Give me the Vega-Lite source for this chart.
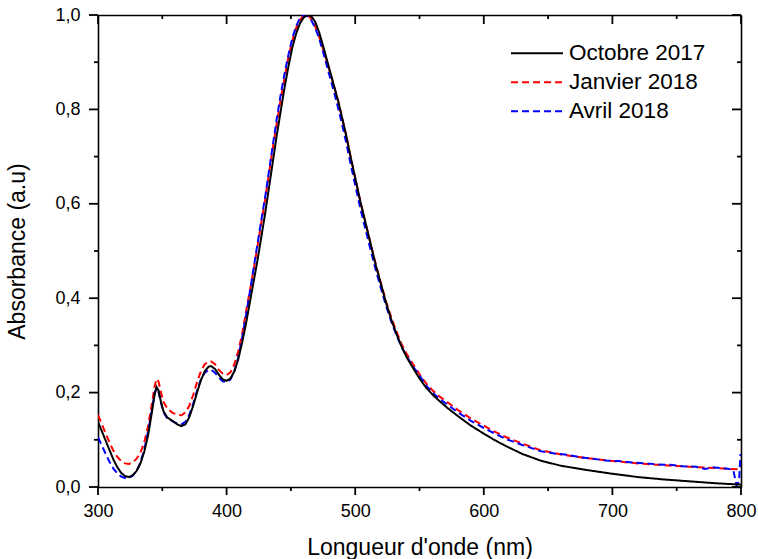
{
  "$schema": "https://vega.github.io/schema/vega-lite/v6.json",
  "width": 643,
  "height": 472,
  "autosize": {"type": "none"},
  "padding": {"left": 98, "top": 15, "right": 17, "bottom": 72},
  "config": {
    "view": {"stroke": null},
    "axis": {
      "grid": false,
      "ticks": false,
      "domainColor": "#000000",
      "domainWidth": 1.6,
      "labelFont": "Liberation Sans",
      "labelFontSize": 18,
      "labelColor": "#000000",
      "labelFlush": false,
      "labelOverlap": false,
      "titleFont": "Liberation Sans",
      "titleFontSize": 23,
      "titleFontWeight": "normal",
      "titleColor": "#000000"
    }
  },
  "datasets": {
    "xmaj": [{"t": 300}, {"t": 400}, {"t": 500}, {"t": 600}, {"t": 700}, {"t": 800}],
    "xmin": [{"t": 350}, {"t": 450}, {"t": 550}, {"t": 650}, {"t": 750}],
    "ymaj": [{"t": 0}, {"t": 0.2}, {"t": 0.4}, {"t": 0.6}, {"t": 0.8}, {"t": 1.0}],
    "ymin": [{"t": 0.1}, {"t": 0.3}, {"t": 0.5}, {"t": 0.7}, {"t": 0.9}]
  },
  "data": {
    "values": [
      {"s": "Janvier 2018", "nm": 300, "a": 0.152},
      {"s": "Janvier 2018", "nm": 303, "a": 0.133},
      {"s": "Janvier 2018", "nm": 306, "a": 0.113},
      {"s": "Janvier 2018", "nm": 309, "a": 0.094},
      {"s": "Janvier 2018", "nm": 312, "a": 0.077},
      {"s": "Janvier 2018", "nm": 315, "a": 0.064},
      {"s": "Janvier 2018", "nm": 318, "a": 0.055},
      {"s": "Janvier 2018", "nm": 321, "a": 0.050},
      {"s": "Janvier 2018", "nm": 324, "a": 0.049},
      {"s": "Janvier 2018", "nm": 327, "a": 0.052},
      {"s": "Janvier 2018", "nm": 330, "a": 0.060},
      {"s": "Janvier 2018", "nm": 333, "a": 0.073},
      {"s": "Janvier 2018", "nm": 336, "a": 0.095},
      {"s": "Janvier 2018", "nm": 339, "a": 0.130},
      {"s": "Janvier 2018", "nm": 342, "a": 0.178},
      {"s": "Janvier 2018", "nm": 344, "a": 0.213},
      {"s": "Janvier 2018", "nm": 345.5, "a": 0.229},
      {"s": "Janvier 2018", "nm": 347, "a": 0.224},
      {"s": "Janvier 2018", "nm": 349, "a": 0.200},
      {"s": "Janvier 2018", "nm": 351, "a": 0.180},
      {"s": "Janvier 2018", "nm": 354, "a": 0.166},
      {"s": "Janvier 2018", "nm": 358, "a": 0.157},
      {"s": "Janvier 2018", "nm": 362, "a": 0.153},
      {"s": "Janvier 2018", "nm": 365, "a": 0.152},
      {"s": "Janvier 2018", "nm": 368, "a": 0.158},
      {"s": "Janvier 2018", "nm": 371, "a": 0.172},
      {"s": "Janvier 2018", "nm": 374, "a": 0.195},
      {"s": "Janvier 2018", "nm": 377, "a": 0.222},
      {"s": "Janvier 2018", "nm": 380, "a": 0.245},
      {"s": "Janvier 2018", "nm": 383, "a": 0.260},
      {"s": "Janvier 2018", "nm": 386, "a": 0.266},
      {"s": "Janvier 2018", "nm": 388, "a": 0.266},
      {"s": "Janvier 2018", "nm": 391, "a": 0.260},
      {"s": "Janvier 2018", "nm": 394, "a": 0.248},
      {"s": "Janvier 2018", "nm": 397, "a": 0.240},
      {"s": "Janvier 2018", "nm": 400, "a": 0.237},
      {"s": "Janvier 2018", "nm": 403, "a": 0.243},
      {"s": "Janvier 2018", "nm": 406, "a": 0.260},
      {"s": "Janvier 2018", "nm": 409, "a": 0.287},
      {"s": "Janvier 2018", "nm": 412, "a": 0.323},
      {"s": "Janvier 2018", "nm": 415, "a": 0.370},
      {"s": "Janvier 2018", "nm": 418, "a": 0.415},
      {"s": "Janvier 2018", "nm": 421, "a": 0.460},
      {"s": "Janvier 2018", "nm": 424, "a": 0.510},
      {"s": "Janvier 2018", "nm": 427, "a": 0.560},
      {"s": "Janvier 2018", "nm": 430, "a": 0.610},
      {"s": "Janvier 2018", "nm": 433, "a": 0.665},
      {"s": "Janvier 2018", "nm": 436, "a": 0.720},
      {"s": "Janvier 2018", "nm": 439, "a": 0.770},
      {"s": "Janvier 2018", "nm": 442, "a": 0.820},
      {"s": "Janvier 2018", "nm": 445, "a": 0.865},
      {"s": "Janvier 2018", "nm": 448, "a": 0.910},
      {"s": "Janvier 2018", "nm": 451, "a": 0.945},
      {"s": "Janvier 2018", "nm": 454, "a": 0.972},
      {"s": "Janvier 2018", "nm": 457, "a": 0.990},
      {"s": "Janvier 2018", "nm": 460, "a": 0.999},
      {"s": "Janvier 2018", "nm": 462, "a": 1.000},
      {"s": "Janvier 2018", "nm": 465, "a": 0.995},
      {"s": "Janvier 2018", "nm": 468, "a": 0.982},
      {"s": "Janvier 2018", "nm": 471, "a": 0.962},
      {"s": "Janvier 2018", "nm": 474, "a": 0.937},
      {"s": "Janvier 2018", "nm": 477, "a": 0.910},
      {"s": "Janvier 2018", "nm": 480, "a": 0.882},
      {"s": "Janvier 2018", "nm": 484, "a": 0.845},
      {"s": "Janvier 2018", "nm": 487, "a": 0.815},
      {"s": "Janvier 2018", "nm": 490, "a": 0.780},
      {"s": "Janvier 2018", "nm": 493, "a": 0.745},
      {"s": "Janvier 2018", "nm": 496, "a": 0.705},
      {"s": "Janvier 2018", "nm": 500, "a": 0.655},
      {"s": "Janvier 2018", "nm": 504, "a": 0.605},
      {"s": "Janvier 2018", "nm": 508, "a": 0.560},
      {"s": "Janvier 2018", "nm": 512, "a": 0.515},
      {"s": "Janvier 2018", "nm": 516, "a": 0.472},
      {"s": "Janvier 2018", "nm": 520, "a": 0.432},
      {"s": "Janvier 2018", "nm": 524, "a": 0.393},
      {"s": "Janvier 2018", "nm": 528, "a": 0.360},
      {"s": "Janvier 2018", "nm": 532, "a": 0.330},
      {"s": "Janvier 2018", "nm": 536, "a": 0.303},
      {"s": "Janvier 2018", "nm": 540, "a": 0.282},
      {"s": "Janvier 2018", "nm": 545, "a": 0.260},
      {"s": "Janvier 2018", "nm": 550, "a": 0.239},
      {"s": "Janvier 2018", "nm": 555, "a": 0.220},
      {"s": "Janvier 2018", "nm": 560, "a": 0.205},
      {"s": "Janvier 2018", "nm": 566, "a": 0.191},
      {"s": "Janvier 2018", "nm": 580, "a": 0.163},
      {"s": "Janvier 2018", "nm": 590, "a": 0.145},
      {"s": "Janvier 2018", "nm": 600, "a": 0.130},
      {"s": "Janvier 2018", "nm": 608, "a": 0.118},
      {"s": "Janvier 2018", "nm": 617, "a": 0.106},
      {"s": "Janvier 2018", "nm": 630, "a": 0.092},
      {"s": "Janvier 2018", "nm": 644, "a": 0.078},
      {"s": "Janvier 2018", "nm": 660, "a": 0.069},
      {"s": "Janvier 2018", "nm": 680, "a": 0.061},
      {"s": "Janvier 2018", "nm": 700, "a": 0.055},
      {"s": "Janvier 2018", "nm": 720, "a": 0.050},
      {"s": "Janvier 2018", "nm": 740, "a": 0.046},
      {"s": "Janvier 2018", "nm": 760, "a": 0.043},
      {"s": "Janvier 2018", "nm": 780, "a": 0.040},
      {"s": "Janvier 2018", "nm": 800, "a": 0.037},

      {"s": "Avril 2018", "nm": 300, "a": 0.105},
      {"s": "Avril 2018", "nm": 303, "a": 0.088},
      {"s": "Avril 2018", "nm": 306, "a": 0.070},
      {"s": "Avril 2018", "nm": 309, "a": 0.053},
      {"s": "Avril 2018", "nm": 312, "a": 0.039},
      {"s": "Avril 2018", "nm": 315, "a": 0.029},
      {"s": "Avril 2018", "nm": 318, "a": 0.022},
      {"s": "Avril 2018", "nm": 321, "a": 0.019},
      {"s": "Avril 2018", "nm": 324, "a": 0.019},
      {"s": "Avril 2018", "nm": 327, "a": 0.024},
      {"s": "Avril 2018", "nm": 330, "a": 0.034},
      {"s": "Avril 2018", "nm": 333, "a": 0.052},
      {"s": "Avril 2018", "nm": 336, "a": 0.080},
      {"s": "Avril 2018", "nm": 339, "a": 0.118},
      {"s": "Avril 2018", "nm": 342, "a": 0.165},
      {"s": "Avril 2018", "nm": 344, "a": 0.198},
      {"s": "Avril 2018", "nm": 345.5, "a": 0.210},
      {"s": "Avril 2018", "nm": 347, "a": 0.203},
      {"s": "Avril 2018", "nm": 349, "a": 0.178},
      {"s": "Avril 2018", "nm": 351, "a": 0.158},
      {"s": "Avril 2018", "nm": 354, "a": 0.145},
      {"s": "Avril 2018", "nm": 358, "a": 0.139},
      {"s": "Avril 2018", "nm": 362, "a": 0.134},
      {"s": "Avril 2018", "nm": 365, "a": 0.133},
      {"s": "Avril 2018", "nm": 368, "a": 0.138},
      {"s": "Avril 2018", "nm": 371, "a": 0.153},
      {"s": "Avril 2018", "nm": 374, "a": 0.176},
      {"s": "Avril 2018", "nm": 377, "a": 0.204},
      {"s": "Avril 2018", "nm": 380, "a": 0.228},
      {"s": "Avril 2018", "nm": 383, "a": 0.242},
      {"s": "Avril 2018", "nm": 386, "a": 0.248},
      {"s": "Avril 2018", "nm": 388, "a": 0.248},
      {"s": "Avril 2018", "nm": 391, "a": 0.242},
      {"s": "Avril 2018", "nm": 394, "a": 0.232},
      {"s": "Avril 2018", "nm": 397, "a": 0.224},
      {"s": "Avril 2018", "nm": 400, "a": 0.222},
      {"s": "Avril 2018", "nm": 403, "a": 0.228},
      {"s": "Avril 2018", "nm": 406, "a": 0.245},
      {"s": "Avril 2018", "nm": 409, "a": 0.274},
      {"s": "Avril 2018", "nm": 412, "a": 0.315},
      {"s": "Avril 2018", "nm": 415, "a": 0.362},
      {"s": "Avril 2018", "nm": 418, "a": 0.412},
      {"s": "Avril 2018", "nm": 421, "a": 0.463},
      {"s": "Avril 2018", "nm": 424, "a": 0.515},
      {"s": "Avril 2018", "nm": 427, "a": 0.565},
      {"s": "Avril 2018", "nm": 430, "a": 0.615},
      {"s": "Avril 2018", "nm": 433, "a": 0.670},
      {"s": "Avril 2018", "nm": 436, "a": 0.725},
      {"s": "Avril 2018", "nm": 439, "a": 0.780},
      {"s": "Avril 2018", "nm": 442, "a": 0.830},
      {"s": "Avril 2018", "nm": 445, "a": 0.875},
      {"s": "Avril 2018", "nm": 448, "a": 0.915},
      {"s": "Avril 2018", "nm": 451, "a": 0.950},
      {"s": "Avril 2018", "nm": 454, "a": 0.976},
      {"s": "Avril 2018", "nm": 457, "a": 0.993},
      {"s": "Avril 2018", "nm": 460, "a": 1.000},
      {"s": "Avril 2018", "nm": 463, "a": 0.997},
      {"s": "Avril 2018", "nm": 466, "a": 0.988},
      {"s": "Avril 2018", "nm": 469, "a": 0.972},
      {"s": "Avril 2018", "nm": 472, "a": 0.950},
      {"s": "Avril 2018", "nm": 475, "a": 0.922},
      {"s": "Avril 2018", "nm": 478, "a": 0.892},
      {"s": "Avril 2018", "nm": 481, "a": 0.862},
      {"s": "Avril 2018", "nm": 484, "a": 0.832},
      {"s": "Avril 2018", "nm": 487, "a": 0.800},
      {"s": "Avril 2018", "nm": 490, "a": 0.766},
      {"s": "Avril 2018", "nm": 493, "a": 0.730},
      {"s": "Avril 2018", "nm": 496, "a": 0.690},
      {"s": "Avril 2018", "nm": 500, "a": 0.640},
      {"s": "Avril 2018", "nm": 504, "a": 0.590},
      {"s": "Avril 2018", "nm": 508, "a": 0.546},
      {"s": "Avril 2018", "nm": 512, "a": 0.502},
      {"s": "Avril 2018", "nm": 516, "a": 0.460},
      {"s": "Avril 2018", "nm": 520, "a": 0.421},
      {"s": "Avril 2018", "nm": 524, "a": 0.384},
      {"s": "Avril 2018", "nm": 528, "a": 0.351},
      {"s": "Avril 2018", "nm": 532, "a": 0.322},
      {"s": "Avril 2018", "nm": 536, "a": 0.297},
      {"s": "Avril 2018", "nm": 540, "a": 0.277},
      {"s": "Avril 2018", "nm": 545, "a": 0.255},
      {"s": "Avril 2018", "nm": 550, "a": 0.236},
      {"s": "Avril 2018", "nm": 555, "a": 0.216},
      {"s": "Avril 2018", "nm": 560, "a": 0.200},
      {"s": "Avril 2018", "nm": 566, "a": 0.186},
      {"s": "Avril 2018", "nm": 580, "a": 0.158},
      {"s": "Avril 2018", "nm": 590, "a": 0.140},
      {"s": "Avril 2018", "nm": 600, "a": 0.125},
      {"s": "Avril 2018", "nm": 608, "a": 0.114},
      {"s": "Avril 2018", "nm": 617, "a": 0.102},
      {"s": "Avril 2018", "nm": 630, "a": 0.089},
      {"s": "Avril 2018", "nm": 644, "a": 0.076},
      {"s": "Avril 2018", "nm": 655, "a": 0.071},
      {"s": "Avril 2018", "nm": 665, "a": 0.068},
      {"s": "Avril 2018", "nm": 675, "a": 0.063},
      {"s": "Avril 2018", "nm": 685, "a": 0.060},
      {"s": "Avril 2018", "nm": 695, "a": 0.056},
      {"s": "Avril 2018", "nm": 705, "a": 0.055},
      {"s": "Avril 2018", "nm": 715, "a": 0.052},
      {"s": "Avril 2018", "nm": 725, "a": 0.050},
      {"s": "Avril 2018", "nm": 735, "a": 0.048},
      {"s": "Avril 2018", "nm": 745, "a": 0.047},
      {"s": "Avril 2018", "nm": 755, "a": 0.044},
      {"s": "Avril 2018", "nm": 765, "a": 0.043},
      {"s": "Avril 2018", "nm": 772, "a": 0.038},
      {"s": "Avril 2018", "nm": 778, "a": 0.042},
      {"s": "Avril 2018", "nm": 785, "a": 0.040},
      {"s": "Avril 2018", "nm": 791, "a": 0.038},
      {"s": "Avril 2018", "nm": 794, "a": 0.036},
      {"s": "Avril 2018", "nm": 796.5, "a": 0.004},
      {"s": "Avril 2018", "nm": 798.5, "a": 0.012},
      {"s": "Avril 2018", "nm": 799.6, "a": 0.070},

      {"s": "Octobre 2017", "nm": 300, "a": 0.138},
      {"s": "Octobre 2017", "nm": 303, "a": 0.118},
      {"s": "Octobre 2017", "nm": 306, "a": 0.098},
      {"s": "Octobre 2017", "nm": 309, "a": 0.078},
      {"s": "Octobre 2017", "nm": 312, "a": 0.058},
      {"s": "Octobre 2017", "nm": 315, "a": 0.042},
      {"s": "Octobre 2017", "nm": 318, "a": 0.030},
      {"s": "Octobre 2017", "nm": 321, "a": 0.023},
      {"s": "Octobre 2017", "nm": 324, "a": 0.021},
      {"s": "Octobre 2017", "nm": 327, "a": 0.025},
      {"s": "Octobre 2017", "nm": 330, "a": 0.034},
      {"s": "Octobre 2017", "nm": 333, "a": 0.050},
      {"s": "Octobre 2017", "nm": 336, "a": 0.075},
      {"s": "Octobre 2017", "nm": 339, "a": 0.110},
      {"s": "Octobre 2017", "nm": 342, "a": 0.160},
      {"s": "Octobre 2017", "nm": 344, "a": 0.195},
      {"s": "Octobre 2017", "nm": 345.5, "a": 0.212},
      {"s": "Octobre 2017", "nm": 347, "a": 0.205},
      {"s": "Octobre 2017", "nm": 349, "a": 0.180},
      {"s": "Octobre 2017", "nm": 351, "a": 0.160},
      {"s": "Octobre 2017", "nm": 354, "a": 0.147},
      {"s": "Octobre 2017", "nm": 358, "a": 0.140},
      {"s": "Octobre 2017", "nm": 362, "a": 0.132},
      {"s": "Octobre 2017", "nm": 365, "a": 0.129},
      {"s": "Octobre 2017", "nm": 368, "a": 0.133},
      {"s": "Octobre 2017", "nm": 371, "a": 0.148},
      {"s": "Octobre 2017", "nm": 374, "a": 0.172},
      {"s": "Octobre 2017", "nm": 377, "a": 0.200},
      {"s": "Octobre 2017", "nm": 380, "a": 0.226},
      {"s": "Octobre 2017", "nm": 383, "a": 0.245},
      {"s": "Octobre 2017", "nm": 386, "a": 0.255},
      {"s": "Octobre 2017", "nm": 388, "a": 0.256},
      {"s": "Octobre 2017", "nm": 391, "a": 0.250},
      {"s": "Octobre 2017", "nm": 394, "a": 0.238},
      {"s": "Octobre 2017", "nm": 397, "a": 0.228},
      {"s": "Octobre 2017", "nm": 400, "a": 0.225},
      {"s": "Octobre 2017", "nm": 403, "a": 0.230},
      {"s": "Octobre 2017", "nm": 406, "a": 0.245},
      {"s": "Octobre 2017", "nm": 409, "a": 0.270},
      {"s": "Octobre 2017", "nm": 412, "a": 0.305},
      {"s": "Octobre 2017", "nm": 415, "a": 0.345},
      {"s": "Octobre 2017", "nm": 418, "a": 0.390},
      {"s": "Octobre 2017", "nm": 421, "a": 0.435},
      {"s": "Octobre 2017", "nm": 424, "a": 0.480},
      {"s": "Octobre 2017", "nm": 427, "a": 0.530},
      {"s": "Octobre 2017", "nm": 430, "a": 0.580},
      {"s": "Octobre 2017", "nm": 433, "a": 0.635},
      {"s": "Octobre 2017", "nm": 436, "a": 0.690},
      {"s": "Octobre 2017", "nm": 439, "a": 0.745},
      {"s": "Octobre 2017", "nm": 442, "a": 0.795},
      {"s": "Octobre 2017", "nm": 445, "a": 0.845},
      {"s": "Octobre 2017", "nm": 448, "a": 0.890},
      {"s": "Octobre 2017", "nm": 451, "a": 0.930},
      {"s": "Octobre 2017", "nm": 454, "a": 0.960},
      {"s": "Octobre 2017", "nm": 457, "a": 0.982},
      {"s": "Octobre 2017", "nm": 460, "a": 0.995},
      {"s": "Octobre 2017", "nm": 463, "a": 1.000},
      {"s": "Octobre 2017", "nm": 466, "a": 0.997},
      {"s": "Octobre 2017", "nm": 469, "a": 0.985},
      {"s": "Octobre 2017", "nm": 472, "a": 0.963},
      {"s": "Octobre 2017", "nm": 475, "a": 0.935},
      {"s": "Octobre 2017", "nm": 478, "a": 0.905},
      {"s": "Octobre 2017", "nm": 481, "a": 0.875},
      {"s": "Octobre 2017", "nm": 484, "a": 0.845},
      {"s": "Octobre 2017", "nm": 487, "a": 0.815},
      {"s": "Octobre 2017", "nm": 490, "a": 0.780},
      {"s": "Octobre 2017", "nm": 493, "a": 0.745},
      {"s": "Octobre 2017", "nm": 496, "a": 0.705},
      {"s": "Octobre 2017", "nm": 500, "a": 0.655},
      {"s": "Octobre 2017", "nm": 504, "a": 0.605},
      {"s": "Octobre 2017", "nm": 508, "a": 0.560},
      {"s": "Octobre 2017", "nm": 512, "a": 0.515},
      {"s": "Octobre 2017", "nm": 516, "a": 0.470},
      {"s": "Octobre 2017", "nm": 520, "a": 0.430},
      {"s": "Octobre 2017", "nm": 524, "a": 0.390},
      {"s": "Octobre 2017", "nm": 528, "a": 0.355},
      {"s": "Octobre 2017", "nm": 532, "a": 0.325},
      {"s": "Octobre 2017", "nm": 536, "a": 0.298},
      {"s": "Octobre 2017", "nm": 540, "a": 0.275},
      {"s": "Octobre 2017", "nm": 545, "a": 0.252},
      {"s": "Octobre 2017", "nm": 550, "a": 0.230},
      {"s": "Octobre 2017", "nm": 555, "a": 0.211},
      {"s": "Octobre 2017", "nm": 560, "a": 0.196},
      {"s": "Octobre 2017", "nm": 566, "a": 0.181},
      {"s": "Octobre 2017", "nm": 572, "a": 0.167},
      {"s": "Octobre 2017", "nm": 580, "a": 0.150},
      {"s": "Octobre 2017", "nm": 590, "a": 0.130},
      {"s": "Octobre 2017", "nm": 600, "a": 0.113},
      {"s": "Octobre 2017", "nm": 608, "a": 0.100},
      {"s": "Octobre 2017", "nm": 617, "a": 0.087},
      {"s": "Octobre 2017", "nm": 630, "a": 0.070},
      {"s": "Octobre 2017", "nm": 644, "a": 0.056},
      {"s": "Octobre 2017", "nm": 660, "a": 0.045},
      {"s": "Octobre 2017", "nm": 680, "a": 0.036},
      {"s": "Octobre 2017", "nm": 700, "a": 0.028},
      {"s": "Octobre 2017", "nm": 720, "a": 0.021},
      {"s": "Octobre 2017", "nm": 740, "a": 0.016},
      {"s": "Octobre 2017", "nm": 760, "a": 0.012},
      {"s": "Octobre 2017", "nm": 780, "a": 0.008},
      {"s": "Octobre 2017", "nm": 800, "a": 0.005}
    ]
  },
  "layer": [
    {
      "mark": {"type": "line", "strokeWidth": 2, "clip": true},
      "encoding": {
        "x": {
          "field": "nm", "type": "quantitative",
          "scale": {"domain": [300, 800], "nice": false, "zero": false},
          "axis": {
            "orient": "bottom",
            "values": [300, 400, 500, 600, 700, 800],
            "format": "d",
            "labelPadding": 15,
            "title": "Longueur d'onde (nm)",
            "titlePadding": 16
          }
        },
        "y": {
          "field": "a", "type": "quantitative",
          "scale": {"domain": [0, 1], "nice": false, "zero": false},
          "axis": {
            "orient": "left",
            "values": [0, 0.2, 0.4, 0.6, 0.8, 1.0],
            "labelExpr": "replace(format(datum.value, '.1f'), '.', ',')",
            "labelPadding": 18,
            "title": "Absorbance (a.u)",
            "titlePadding": 25
          }
        },
        "color": {
          "field": "s", "type": "nominal",
          "scale": {"domain": ["Octobre 2017", "Janvier 2018", "Avril 2018"], "range": ["#000000", "#ff0000", "#0000ff"]},
          "legend": {
            "title": null,
            "orient": "none",
            "legendX": 412,
            "legendY": 24,
            "padding": 0,
            "symbolType": "stroke",
            "symbolSize": 2700,
            "symbolStrokeWidth": 2,
            "clipHeight": 28.7,
            "rowPadding": 0,
            "labelOffset": 5,
            "labelFont": "Liberation Sans",
            "labelFontSize": 22.5,
            "labelColor": "black",
            "labelLimit": 400
          }
        },
        "strokeDash": {
          "field": "s", "type": "nominal",
          "scale": {"domain": ["Octobre 2017", "Janvier 2018", "Avril 2018"], "range": [[1, 0], [7, 4], [7, 4]]},
          "legend": {
            "title": null,
            "orient": "none",
            "legendX": 412,
            "legendY": 24,
            "padding": 0,
            "symbolType": "stroke",
            "symbolSize": 2700,
            "symbolStrokeWidth": 2,
            "clipHeight": 28.7,
            "rowPadding": 0,
            "labelOffset": 5,
            "labelFont": "Liberation Sans",
            "labelFontSize": 22.5,
            "labelColor": "black",
            "labelLimit": 400
          }
        }
      }
    },
    {
      "mark": {"type": "point", "opacity": 0},
      "encoding": {
        "x": {
          "field": "nm", "type": "quantitative",
          "axis": {"orient": "top", "values": [], "labels": false, "title": null}
        },
        "y": {
          "field": "a", "type": "quantitative",
          "axis": {"orient": "right", "values": [], "labels": false, "title": null}
        }
      }
    },
    {
      "data": {"name": "xmaj"},
      "mark": {"type": "tick", "orient": "vertical", "size": 8, "thickness": 1.8, "color": "#000000", "opacity": 1, "yOffset": 4, "clip": false},
      "encoding": {
        "x": {"field": "t", "type": "quantitative", "axis": null},
        "y": {"datum": 0, "type": "quantitative", "axis": null}
      }
    },
    {
      "data": {"name": "xmin"},
      "mark": {"type": "tick", "orient": "vertical", "size": 4, "thickness": 1.8, "color": "#000000", "opacity": 1, "yOffset": 2, "clip": false},
      "encoding": {
        "x": {"field": "t", "type": "quantitative", "axis": null},
        "y": {"datum": 0, "type": "quantitative", "axis": null}
      }
    },
    {
      "data": {"name": "xmaj"},
      "mark": {"type": "tick", "orient": "vertical", "size": 9, "thickness": 1.8, "color": "#000000", "opacity": 1, "yOffset": 4.5, "clip": false},
      "encoding": {
        "x": {"field": "t", "type": "quantitative", "axis": null},
        "y": {"datum": 1, "type": "quantitative", "axis": null}
      }
    },
    {
      "data": {"name": "xmin"},
      "mark": {"type": "tick", "orient": "vertical", "size": 4, "thickness": 1.8, "color": "#000000", "opacity": 1, "yOffset": 2, "clip": false},
      "encoding": {
        "x": {"field": "t", "type": "quantitative", "axis": null},
        "y": {"datum": 1, "type": "quantitative", "axis": null}
      }
    },
    {
      "data": {"name": "ymaj"},
      "mark": {"type": "tick", "orient": "horizontal", "size": 9, "thickness": 1.8, "color": "#000000", "opacity": 1, "xOffset": -4.5, "clip": false},
      "encoding": {
        "y": {"field": "t", "type": "quantitative", "axis": null},
        "x": {"datum": 300, "type": "quantitative", "axis": null}
      }
    },
    {
      "data": {"name": "ymin"},
      "mark": {"type": "tick", "orient": "horizontal", "size": 4, "thickness": 1.8, "color": "#000000", "opacity": 1, "xOffset": -2, "clip": false},
      "encoding": {
        "y": {"field": "t", "type": "quantitative", "axis": null},
        "x": {"datum": 300, "type": "quantitative", "axis": null}
      }
    },
    {
      "data": {"name": "ymaj"},
      "mark": {"type": "tick", "orient": "horizontal", "size": 9, "thickness": 1.8, "color": "#000000", "opacity": 1, "xOffset": -4.5, "clip": false},
      "encoding": {
        "y": {"field": "t", "type": "quantitative", "axis": null},
        "x": {"datum": 800, "type": "quantitative", "axis": null}
      }
    },
    {
      "data": {"name": "ymin"},
      "mark": {"type": "tick", "orient": "horizontal", "size": 4, "thickness": 1.8, "color": "#000000", "opacity": 1, "xOffset": -2, "clip": false},
      "encoding": {
        "y": {"field": "t", "type": "quantitative", "axis": null},
        "x": {"datum": 800, "type": "quantitative", "axis": null}
      }
    }
  ],
  "resolve": {"axis": {"x": "independent", "y": "independent"}}
}
